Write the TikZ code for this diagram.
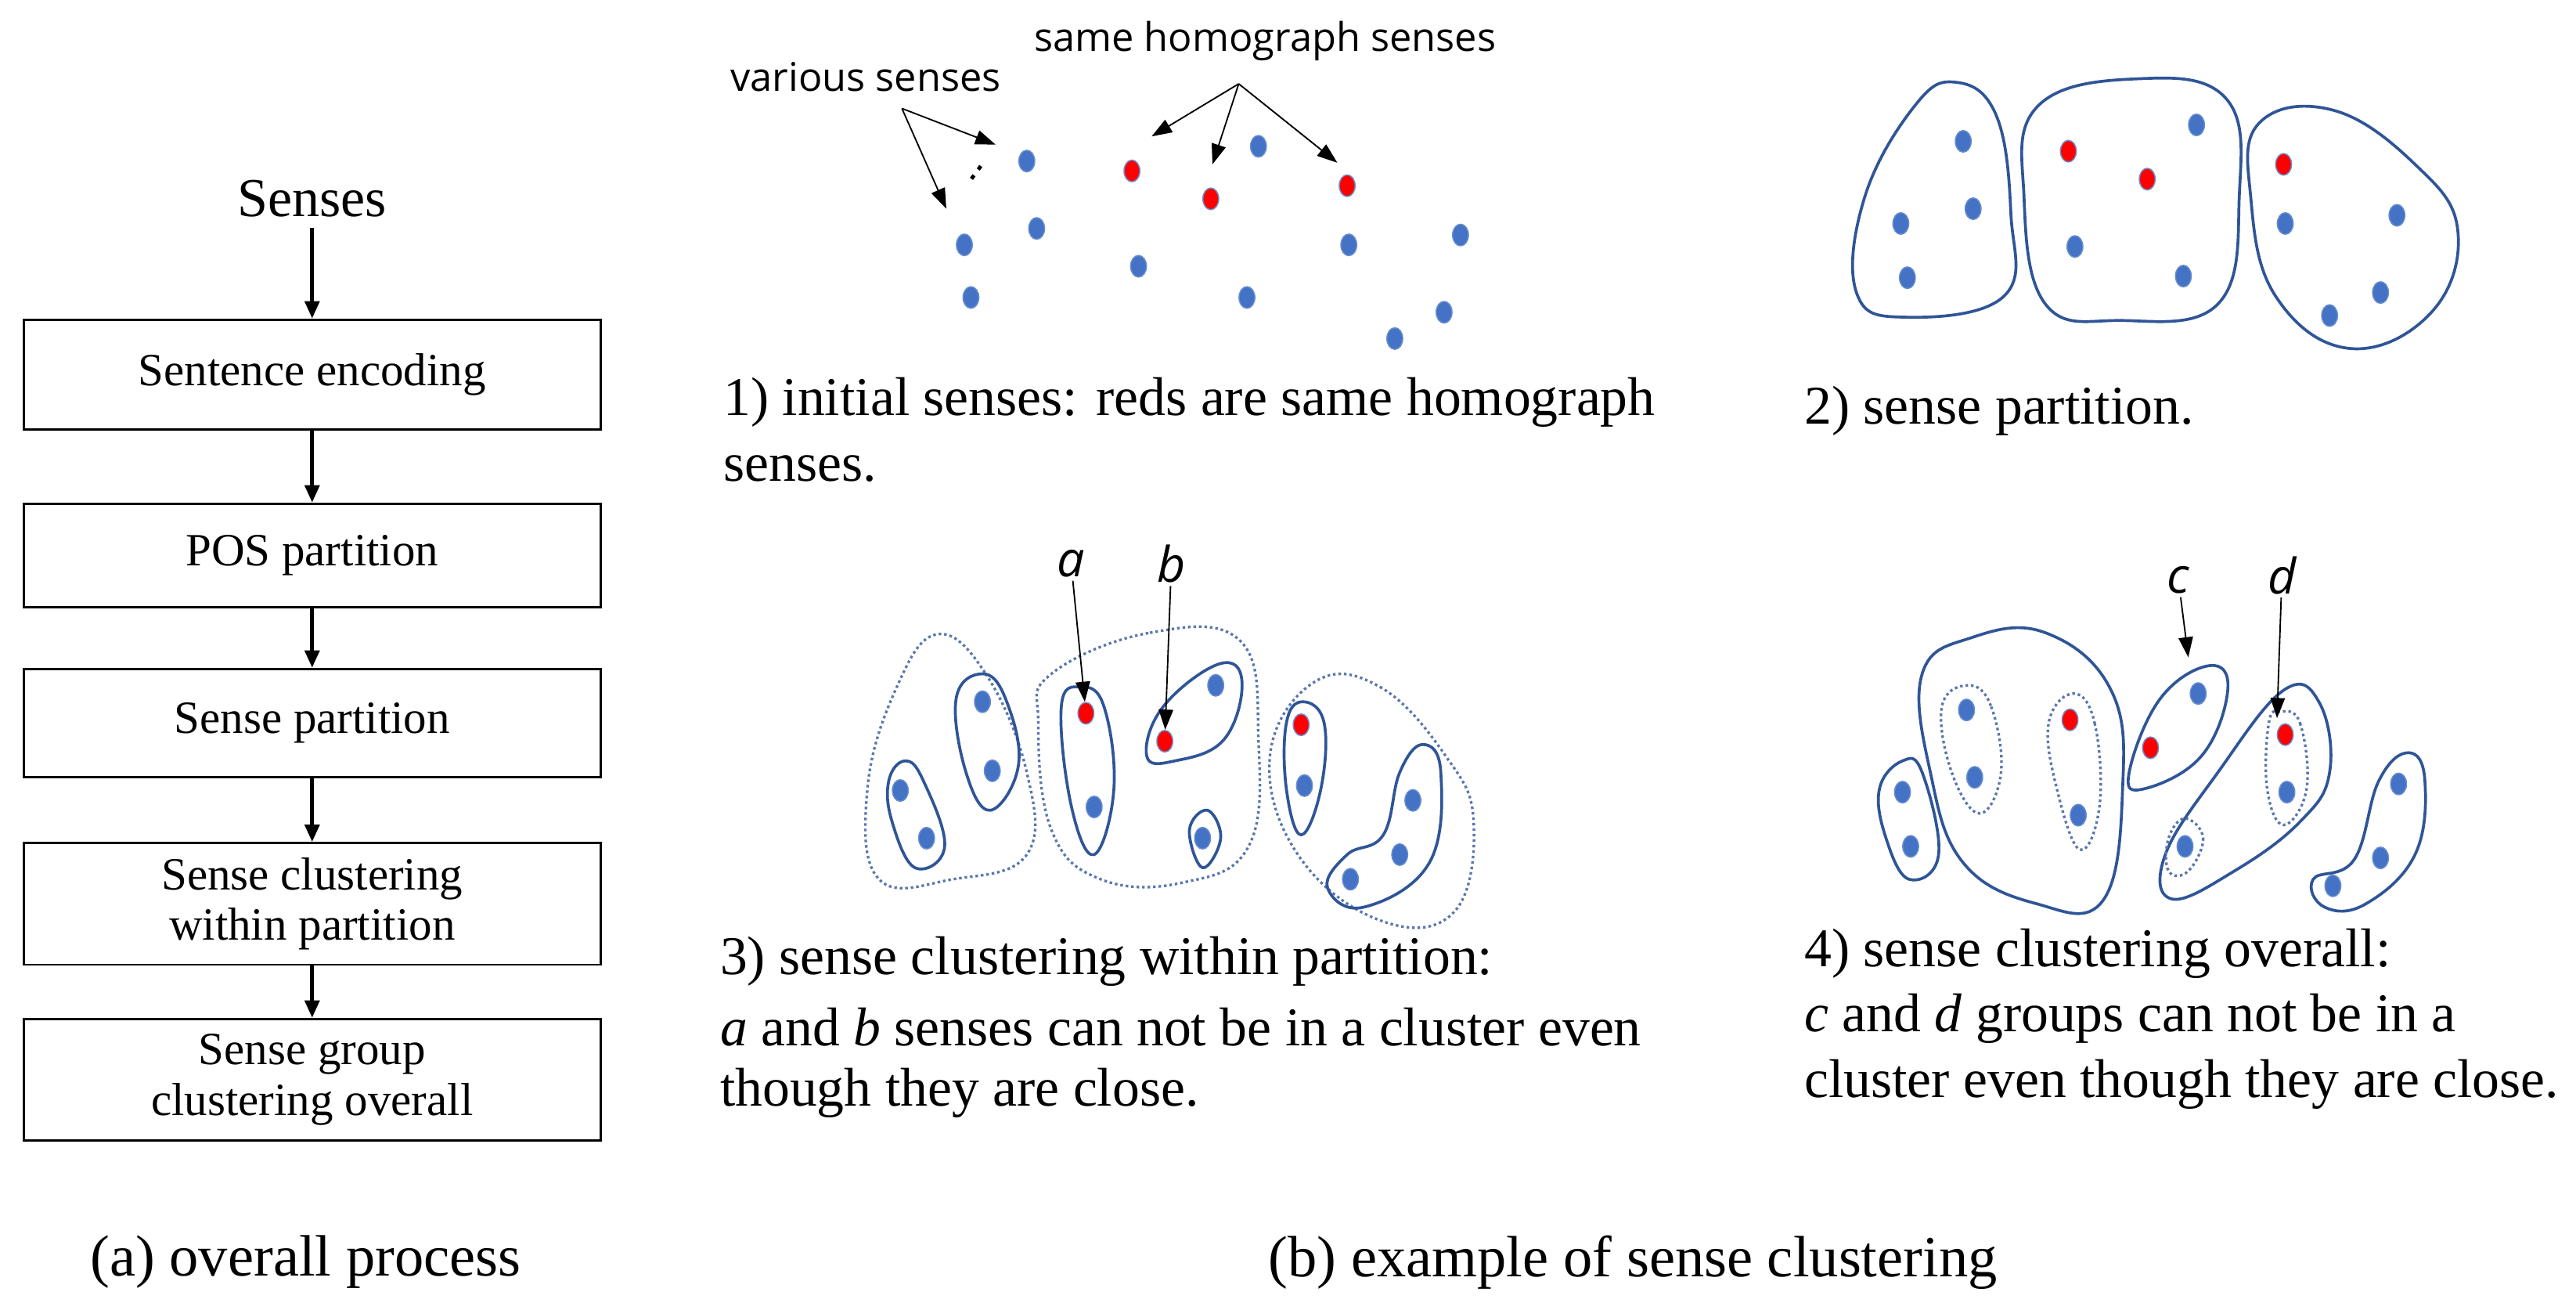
\documentclass[tikz,border=0pt]{standalone}
\usepackage{fontspec}
\setmainfont{Liberation Serif}
\newfontfamily\labfont{Open Sans}
\usetikzlibrary{shapes.geometric,arrows.meta,positioning}
\definecolor{dotblue}{RGB}{68,114,196}
\definecolor{lineblue}{RGB}{47,85,151}
\tikzset{
  box/.style={draw, line width=0.8pt, minimum width=7.02cm, inner sep=0pt},
  flow/.style={-{Triangle[length=6pt,width=5pt]}, line width=1.3pt},
  bdot/.style={ellipse, fill=dotblue, draw=dotblue!80!white, minimum width=5.5pt, minimum height=7.5pt, inner sep=0pt},
  rdot/.style={bdot, fill=red},
  blob/.style={draw=lineblue, line width=1pt},
  dblob/.style={draw=lineblue!80, line width=0.9pt, densely dotted},
  pointer/.style={-{Triangle[length=7pt,width=5pt]}, line width=0.5pt},
  captext/.style={font=\fontsize{18.9}{22}\selectfont, anchor=west, inner sep=0pt},
  lab/.style={font=\labfont\fontsize{13.7}{16}\selectfont, inner sep=1pt},
  ilab/.style={font=\labfont\itshape\fontsize{17}{20}\selectfont, inner sep=1pt},
}
\begin{document}
\begin{tikzpicture}[x=0.02cm, y=-0.02cm]
\useasboundingbox (0,0) rectangle (1568,797);

% (a) overall process
\node[font=\fontsize{19}{22}\selectfont] (top) at (190,121) {Senses};
\node[box, minimum height=1.34cm, font=\fontsize{16}{19}\selectfont] (enc) at (190,228) {Sentence encoding};
\node[box, minimum height=1.26cm, font=\fontsize{16}{19}\selectfont] (pos) at (190,338) {POS partition};
\node[box, minimum height=1.32cm, font=\fontsize{16}{19}\selectfont] (sp) at (190,440) {Sense partition};
\node[box, minimum height=1.48cm, align=center, font=\fontsize{16}{17.5}\selectfont] (scw) at (190,550) {Sense clustering\\within partition};
\node[box, minimum height=1.48cm, align=center, font=\fontsize{16}{17.5}\selectfont] (sgc) at (190,657) {Sense group\\clustering overall};
\draw[flow] (top) -- (enc);
\draw[flow] (enc) -- (pos);
\draw[flow] (pos) -- (sp);
\draw[flow] (sp) -- (scw);
\draw[flow] (scw) -- (sgc);
\node[font=\fontsize{20.2}{23}\selectfont] (capa) at (186,768) {(a) overall process};
\node[font=\fontsize{20.2}{23}\selectfont] (capb) at (994,768) {(b) example of sense clustering};

% 1) initial senses
\foreach \n/\x/\y in {1/625/98, 2/587/149, 3/631/139, 4/591/181, 5/693/162, 6/766/89,
                      7/759/181, 8/821/149, 9/889/143, 10/879/190, 11/849/206}
  \node[bdot] (i\n) at (\x,\y) {};
\foreach \n/\x/\y in {1/689/104, 2/737/121, 3/820/113}
  \node[rdot] (ir\n) at (\x,\y) {};
\node[lab] (various) at (527,47) {various senses};
\node[lab] (homo) at (770,25) {same homograph senses};
\coordinate (vo) at (549,66);
\coordinate (ho) at (754,51);
\draw[pointer] (vo) -- (606,88);
\draw[pointer] (vo) -- (576,127);
\draw[pointer] (ho) -- (701,83);
\draw[pointer] (ho) -- (738,100);
\draw[pointer] (ho) -- (814,99);
\draw[line width=1.3pt, dash pattern=on 1.5pt off 2.5pt] (597,101) -- (589,112);
\node[captext] at (440,245) {1) initial senses: reds are same homograph};
\node[captext] at (440,285) {senses.};

% 2) sense partition
\foreach \n/\x/\y in {1/1195/86, 2/1157/136, 3/1201/127, 4/1161/169, 5/1337/76, 6/1263/150,
                      7/1329/168, 8/1391/136, 9/1459/131, 10/1449/178, 11/1418/192}
  \node[bdot] (p\n) at (\x,\y) {};
\foreach \n/\x/\y in {1/1259/92, 2/1307/109, 3/1390/100}
  \node[rdot] (pr\n) at (\x,\y) {};
\draw[blob] plot[smooth cycle, tension=0.7] coordinates {(1190,50) (1215,70) (1224,130) (1220,180) (1160,193) (1130,178) (1135,120) (1165,65)};
\draw[blob] plot[smooth cycle, tension=0.7] coordinates {(1240,65) (1300,48) (1355,60) (1363,120) (1350,185) (1290,195) (1245,185) (1232,120)};
\draw[blob] plot[smooth cycle, tension=0.7] coordinates {(1375,75) (1420,67) (1470,100) (1496,140) (1480,190) (1430,212) (1385,180) (1370,120)};
\node[captext] at (1098,250) {2) sense partition.};

% 3) sense clustering within partition
\foreach \n/\x/\y in {1/598/427, 2/604/469, 3/548/481, 4/564/510, 5/666/491, 6/740/417,
                      7/732/510, 8/794/478, 9/860/487, 10/852/520, 11/822/535}
  \node[bdot] (w\n) at (\x,\y) {};
\node[rdot] (wa) at (661,434) {};
\node[rdot] (wb) at (709,451) {};
\node[rdot] (wr) at (792,441) {};
\draw[dblob] plot[smooth cycle, tension=0.7] coordinates {(570,386) (600,410) (625,470) (625,520) (580,535) (535,535) (528,480) (545,420)};
\draw[dblob] plot[smooth cycle, tension=0.7] coordinates {(640,410) (700,385) (755,390) (766,450) (760,515) (720,537) (670,535) (640,505) (632,440)};
\draw[dblob] plot[smooth cycle, tension=0.7] coordinates {(800,415) (840,418) (880,460) (897,500) (885,555) (840,560) (790,520) (773,460)};
\draw[blob] plot[smooth cycle, tension=0.7] coordinates {(598,410) (612,425) (620,465) (603,493) (588,470) (582,425)};
\draw[blob] plot[smooth cycle, tension=0.7] coordinates {(551,463) (562,475) (575,515) (557,528) (543,500) (541,475)};
\draw[blob] plot[smooth cycle, tension=0.7] coordinates {(658,418) (672,430) (678,480) (666,520) (652,490) (646,430)};
\draw[blob] plot[smooth cycle, tension=0.7] coordinates {(742,404) (756,415) (745,450) (715,463) (698,460) (708,430)};
\draw[blob] plot[smooth cycle, tension=0.7] coordinates {(735,493) (743,510) (732,528) (724,505)};
\draw[blob] plot[smooth cycle, tension=0.7] coordinates {(793,427) (806,440) (804,480) (792,508) (783,480) (783,440)};
\draw[blob] plot[smooth cycle, tension=0.7] coordinates {(866,453) (877,470) (870,525) (830,552) (808,540) (820,520) (842,508) (852,470)};
\node[ilab] (la) at (652,343) {a};
\node[ilab] (lb) at (713,343) {b};
\draw[pointer] (la) -- (wa);
\draw[pointer] (lb) -- (wb);
\node[captext] at (438,585) {3) sense clustering within partition:};
\node[captext] at (438,625) {\textit{a} and \textit{b} senses can not be in a cluster even};
\node[captext] at (438,665) {though they are close.};

% 4) sense clustering overall
\foreach \n/\x/\y in {1/1158/482, 2/1163/515, 3/1197/432, 4/1202/473, 5/1265/496, 6/1338/422,
                      7/1392/482, 8/1330/515, 9/1460/477, 10/1449/522, 11/1420/539}
  \node[bdot] (o\n) at (\x,\y) {};
\node[rdot] (oc) at (1309,455) {};
\node[rdot] (od) at (1391,447) {};
\node[rdot] (or) at (1260,438) {};
\draw[blob] plot[smooth cycle, tension=0.7] coordinates {(1200,388) (1245,385) (1285,420) (1292,480) (1280,548) (1240,550) (1195,525) (1175,470) (1170,410)};
\draw[blob] plot[smooth cycle, tension=0.7] coordinates {(1158,463) (1170,470) (1180,520) (1162,535) (1148,510) (1144,480)};
\draw[blob] plot[smooth cycle, tension=0.7] coordinates {(1345,405) (1356,420) (1340,460) (1305,480) (1296,470) (1315,425)};
\draw[blob] plot[smooth cycle, tension=0.7] coordinates {(1390,420) (1412,428) (1418,470) (1400,500) (1360,530) (1322,547) (1318,520) (1350,470)};
\draw[blob] plot[smooth cycle, tension=0.7] coordinates {(1466,458) (1476,475) (1470,520) (1440,550) (1415,552) (1408,535) (1433,523) (1448,475)};
\draw[dblob] plot[smooth cycle, tension=0.7] coordinates {(1198,417) (1212,430) (1218,470) (1205,495) (1188,470) (1182,430)};
\draw[dblob] plot[smooth cycle, tension=0.7] coordinates {(1262,422) (1275,440) (1278,490) (1266,517) (1252,480) (1247,440)};
\draw[dblob] plot[smooth cycle, tension=0.7] coordinates {(1388,433) (1400,440) (1404,480) (1390,502) (1380,480) (1381,440)};
\draw[dblob] plot[smooth cycle, tension=0.7] coordinates {(1330,498) (1341,510) (1332,530) (1320,530) (1320,510)};
\node[ilab] (lc) at (1326,353) {c};
\node[ilab] (ld) at (1389,350) {d};
\draw[pointer] (lc) -- (1332,400);
\draw[pointer] (ld) -- (1386,437);
\node[captext] at (1098,580) {4) sense clustering overall:};
\node[captext] at (1098,620) {\textit{c} and \textit{d} groups can not be in a};
\node[captext] at (1098,660) {cluster even though they are close.};
\end{tikzpicture}
\end{document}
